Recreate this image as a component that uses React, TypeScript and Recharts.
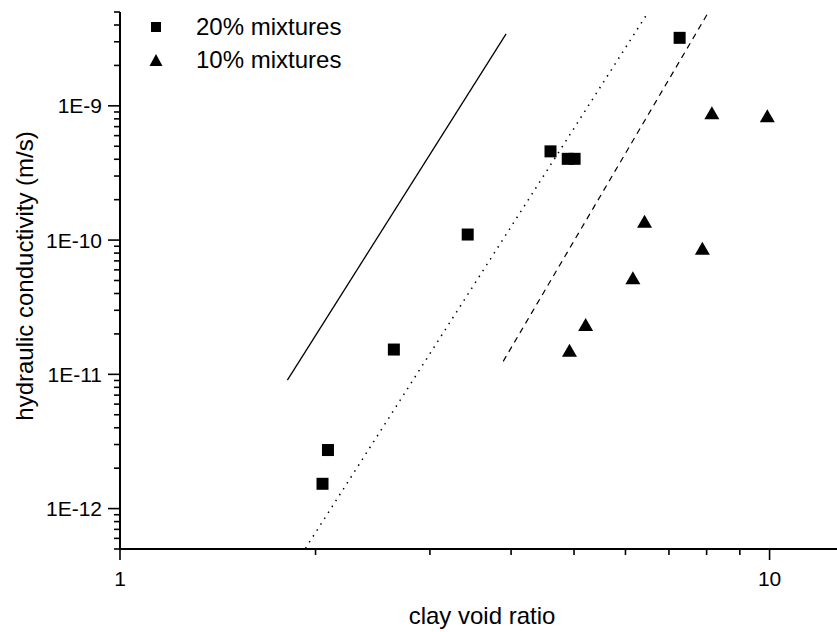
import { ScatterChart, Scatter, XAxis, YAxis, Legend } from 'recharts';

// 20% mixtures: clay void ratio vs hydraulic conductivity (m/s)
const mix20Ratio = [2.05, 2.09, 2.64, 3.43, 4.6, 4.89, 5.01, 7.27];
const mix20K = [1.53e-12, 2.73e-12, 1.53e-11, 1.1e-10, 4.58e-10, 4.03e-10, 4.03e-10, 3.21e-9];

// 10% mixtures
const mix10Ratio = [8.15, 9.92, 6.42, 7.88, 6.16, 5.21, 4.92];
const mix10K = [8.88e-10, 8.42e-10, 1.38e-10, 8.69e-11, 5.25e-11, 2.35e-11, 1.51e-11];

// reference lines (end points)
const solidRatio = [1.81, 3.93];
const solidK = [9.05e-12, 3.44e-9];
const dottedRatio = [1.93, 6.52];
const dottedK = [5.06e-13, 5.08e-9];
const dashedRatio = [3.89, 8.07];
const dashedK = [1.25e-11, 5.08e-9];

const legendNames = ['20% mixtures', '10% mixtures'];

const xTicks = [1, 2, 3, 4, 5, 6, 7, 8, 9, 10];
const yDecades = [-13, -12, -11, -10, -9];
const yMultipliers = [1, 2, 3, 4, 5, 6, 7, 8, 9];

const X_DOMAIN: [number, number] = [1, 12.7];
const Y_DOMAIN: [number, number] = [5e-13, 5e-9];

const FONT = '"Liberation Sans", Arial, sans-serif';
const AXIS_X = 120;
const AXIS_Y = 549;

const toPoints = (xs: number[], ys: number[]) => xs.map((x, i) => ({ x, k: ys[i] }));

const yTicks = yDecades
  .flatMap((e) => yMultipliers.map((m) => m * Math.pow(10, e)))
  .filter((v) => v >= Y_DOMAIN[0] * 0.999 && v <= Y_DOMAIN[1] * 1.001);

const isDecade = (v: number) => Math.abs(Math.log10(v) - Math.round(Math.log10(v))) < 1e-6;

function YTick({ y, payload }: any) {
  const v = payload.value;
  const major = isDecade(v);
  return (
    <g>
      <line x1={AXIS_X - (major ? 12 : 6)} x2={AXIS_X} y1={y} y2={y} stroke="#000" strokeWidth={1.6} />
      {major && (
        <text x={AXIS_X - 18} y={y} textAnchor="end" dominantBaseline="central" fontSize={21} fontFamily={FONT} fill="#000">
          {`1E${Math.round(Math.log10(v))}`}
        </text>
      )}
    </g>
  );
}

function XTick({ x, payload }: any) {
  const v = payload.value;
  const major = isDecade(v);
  return (
    <g>
      <line x1={x} x2={x} y1={AXIS_Y} y2={AXIS_Y + (major ? 11 : 6)} stroke="#000" strokeWidth={1.6} />
      {major && (
        <text x={x} y={AXIS_Y + 29} textAnchor="middle" dominantBaseline="central" fontSize={21} fontFamily={FONT} fill="#000">
          {v}
        </text>
      )}
    </g>
  );
}

const drawSquare = (cx: number, cy: number, side: number) => (
  <rect x={cx - side / 2} y={cy - side / 2} width={side} height={side} fill="#000" />
);
const drawTriangle = (cx: number, cy: number, tw: number, th: number) => (
  <polygon points={`${cx},${cy - th / 2} ${cx - tw / 2},${cy + th / 2} ${cx + tw / 2},${cy + th / 2}`} fill="#000" />
);

const SquareDot = ({ cx, cy }: any) => drawSquare(cx, cy, 12);
const TriangleDot = ({ cx, cy }: any) => drawTriangle(cx, cy, 15, 13);
const NoDot = () => <g />;

function LegendBox() {
  return (
    <div style={{ fontFamily: FONT, fontSize: 24, color: '#000' }}>
      {legendNames.map((name, i) => (
        <div key={name} style={{ display: 'flex', alignItems: 'center', height: 33 }}>
          <svg width={51} height={20}>
            {i === 0 ? drawSquare(11, 10, 10) : drawTriangle(11, 10, 13, 12)}
          </svg>
          <span>{name}</span>
        </div>
      ))}
    </div>
  );
}

export default function App() {
  return (
    <div style={{ position: 'absolute', left: 0, top: 0, width: 837, height: 632, background: '#fff' }}>
      <ScatterChart width={837} height={632} margin={{ top: 12, right: 0, bottom: 0, left: 0 }}>
        <XAxis
          type="number"
          dataKey="x"
          scale="log"
          domain={X_DOMAIN}
          allowDataOverflow
          ticks={xTicks}
          interval={0}
          tickLine={false}
          axisLine={{ stroke: '#000', strokeWidth: 2 }}
          tick={<XTick />}
          height={83}
          label={{
            content: () => (
              <text x={482} y={615} textAnchor="middle" dominantBaseline="central" fontSize={24} fontFamily={FONT} fill="#000">
                clay void ratio
              </text>
            ),
          }}
        />
        <YAxis
          type="number"
          dataKey="k"
          scale="log"
          domain={Y_DOMAIN}
          allowDataOverflow
          ticks={yTicks}
          interval={0}
          tickLine={false}
          axisLine={{ stroke: '#000', strokeWidth: 2 }}
          tick={<YTick />}
          width={120}
          label={{
            content: () => (
              <text
                x={24}
                y={276}
                transform="rotate(-90 24 276)"
                textAnchor="middle"
                dominantBaseline="central"
                fontSize={24}
                fontFamily={FONT}
                fill="#000"
              >
                hydraulic conductivity (m/s)
              </text>
            ),
          }}
        />
        <Legend
          layout="horizontal"
          verticalAlign="middle"
          wrapperStyle={{ left: 145, top: 10, width: 260 }}
          content={<LegendBox />}
        />
        <Scatter name="solid" data={toPoints(solidRatio, solidK)} fill="#000" line={{ stroke: '#000', strokeWidth: 1.3 }} shape={<NoDot />} legendType="none" isAnimationActive={false} />
        <Scatter name="dotted" data={toPoints(dottedRatio, dottedK)} fill="#000" line={{ stroke: '#000', strokeWidth: 1.5, strokeDasharray: '1.5 5.5' }} shape={<NoDot />} legendType="none" isAnimationActive={false} />
        <Scatter name="dashed" data={toPoints(dashedRatio, dashedK)} fill="#000" line={{ stroke: '#000', strokeWidth: 1.2, strokeDasharray: '6 5' }} shape={<NoDot />} legendType="none" isAnimationActive={false} />
        <Scatter name="20% mixtures" data={toPoints(mix20Ratio, mix20K)} fill="#000" shape={<SquareDot />} isAnimationActive={false} />
        <Scatter name="10% mixtures" data={toPoints(mix10Ratio, mix10K)} fill="#000" shape={<TriangleDot />} isAnimationActive={false} />
      </ScatterChart>
    </div>
  );
}
